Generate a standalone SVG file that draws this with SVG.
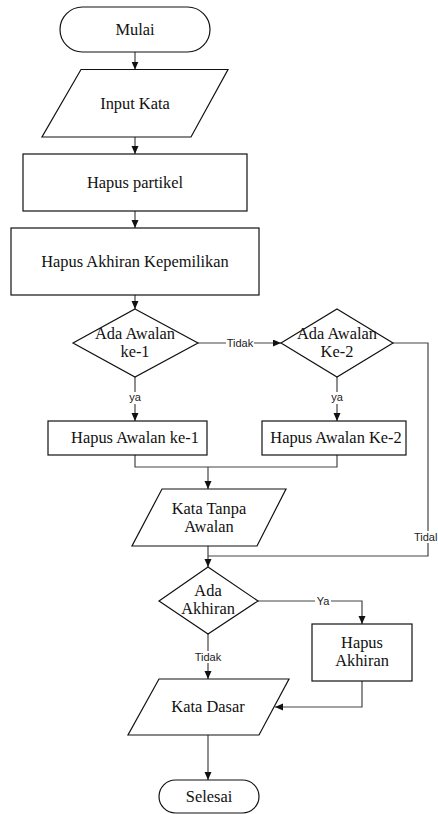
<svg xmlns="http://www.w3.org/2000/svg" width="438" height="814" viewBox="0 0 438 814">
<defs>
<marker id="arr" markerUnits="userSpaceOnUse" markerWidth="9" markerHeight="8" refX="8" refY="3.5" orient="auto">
<path d="M0,0 L8,3.5 L0,7 z" fill="#111"/>
</marker>
<style>
.n{fill:#fff;stroke:#111;stroke-width:1.2}
.t{font-family:"Liberation Serif","Times New Roman",serif;font-size:16.4px;fill:#111;text-anchor:middle}
.c{fill:none;stroke:#444;stroke-width:1.2}
.a{marker-end:url(#arr)}
.lb{fill:#fff;stroke:none}
.l{font-family:"Liberation Sans",Arial,sans-serif;font-size:11px;fill:#222;text-anchor:middle}
</style>
</defs>
<rect width="438" height="814" fill="#fff"/>
<g id="connectors">
<path class="c a" d="M135,52 V69.5"/>
<path class="c a" d="M135,137 V154"/>
<path class="c a" d="M135,211 V228"/>
<path class="c a" d="M135,295 V309"/>
<path class="c a" d="M198,343 H281"/>
<path class="c a" d="M135,377 V421"/>
<path class="c a" d="M337,377 V421"/>
<path class="c" d="M135,455 V467 H337 V455"/>
<path class="c a" d="M208,467 V489"/>
<path class="c" d="M393,343 H428 V556 H208"/>
<path class="c a" d="M208,546 V567"/>
<path class="c a" d="M258,601 H362 V624"/>
<path class="c a" d="M208,634 V679"/>
<path class="c a" d="M362,681 V707 H275"/>
<path class="c a" d="M208,735 V780"/>
<rect class="lb" x="226" y="337" width="28" height="12"/>
<text class="l" x="240" y="347">Tidak</text>
<rect class="lb" x="128" y="392" width="14" height="12"/>
<text class="l" x="135" y="401">ya</text>
<rect class="lb" x="330" y="392" width="14" height="12"/>
<text class="l" x="337" y="401">ya</text>
<rect class="lb" x="413" y="531" width="25" height="12"/>
<text class="l" x="414" y="541" style="text-anchor:start">Tidal</text>
<rect class="lb" x="315" y="595" width="16" height="12"/>
<text class="l" x="323" y="605">Ya</text>
<rect class="lb" x="194" y="651" width="28" height="12"/>
<text class="l" x="208" y="661">Tidak</text>
</g>
<g id="mulai">
<rect class="n" x="60" y="7" width="150" height="45" rx="22.5"/>
<text class="t" x="135" y="35">Mulai</text>
</g>
<g id="input-kata">
<polygon class="n" points="81,69.5 228,69.5 191,137 42,137"/>
<text class="t" x="135" y="109">Input Kata</text>
</g>
<g id="hapus-partikel">
<rect class="n" x="23" y="154" width="224" height="57"/>
<text class="t" x="135" y="188">Hapus partikel</text>
</g>
<g id="hapus-akhiran-kepemilikan">
<rect class="n" x="11" y="228" width="248" height="67"/>
<text class="t" x="135" y="267">Hapus Akhiran Kepemilikan</text>
</g>
<g id="ada-awalan-1">
<polygon class="n" points="135,309 198,343 135,377 73,343"/>
<text class="t" x="135" y="339">Ada Awalan</text>
<text class="t" x="135" y="357">ke-1</text>
</g>
<g id="ada-awalan-2">
<polygon class="n" points="337,309 393,343 337,377 281,343"/>
<text class="t" x="337" y="339">Ada Awalan</text>
<text class="t" x="337" y="357">Ke-2</text>
</g>
<g id="hapus-awalan-1">
<rect class="n" x="48" y="421" width="159" height="34"/>
<text class="t" x="135" y="443">Hapus Awalan ke-1</text>
</g>
<g id="hapus-awalan-2">
<rect class="n" x="262" y="421" width="144" height="34"/>
<text class="t" x="336" y="443">Hapus Awalan Ke-2</text>
</g>
<g id="kata-tanpa-awalan">
<polygon class="n" points="162,489 286,489 257,546 132,546"/>
<text class="t" x="209" y="514">Kata Tanpa</text>
<text class="t" x="209" y="531.5">Awalan</text>
</g>
<g id="ada-akhiran">
<polygon class="n" points="208,567 258,601 208,634 159,601"/>
<text class="t" x="208" y="596">Ada</text>
<text class="t" x="208" y="614">Akhiran</text>
</g>
<g id="hapus-akhiran">
<rect class="n" x="312" y="624" width="100" height="57"/>
<text class="t" x="362" y="648">Hapus</text>
<text class="t" x="362" y="666">Akhiran</text>
</g>
<g id="kata-dasar">
<polygon class="n" points="159,679 289,679 259,735 128,735"/>
<text class="t" x="208" y="712">Kata Dasar</text>
</g>
<g id="selesai">
<rect class="n" x="159" y="780" width="100" height="33" rx="16.5"/>
<text class="t" x="209" y="802">Selesai</text>
</g>
</svg>
